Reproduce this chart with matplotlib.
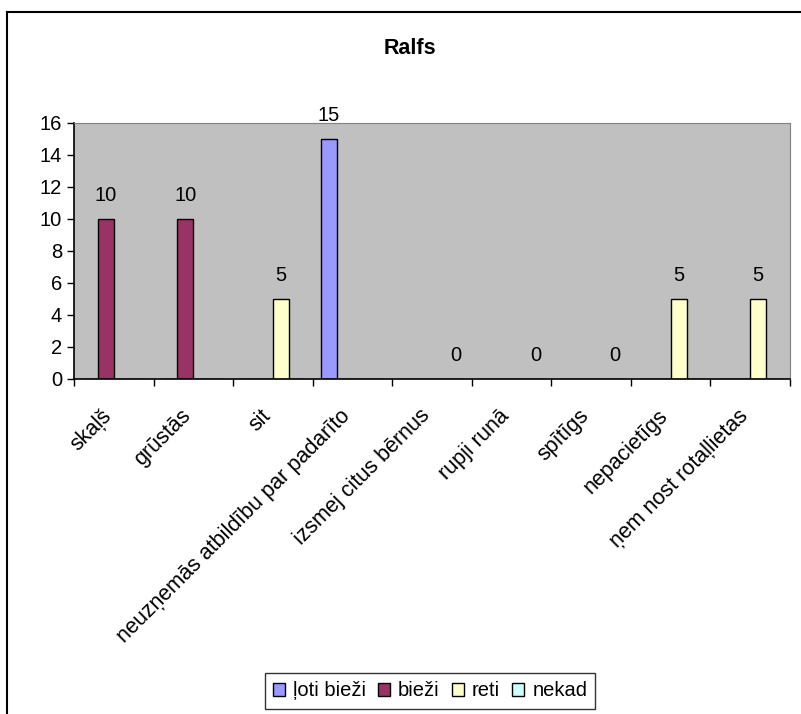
import numpy as np
import matplotlib.pyplot as plt
import matplotlib.transforms as mtransforms

# Data
categories = ['skaļš', 'grūstās', 'sit', 'neuzņemās atbildību par padarīto',
              'izsmej citus bērnus', 'rupji runā', 'spītīgs', 'nepacietīgs',
              'ņem nost rotaļlietas']
series_names = ['ļoti bieži', 'bieži', 'reti', 'nekad']
loti_biezi = [np.nan, np.nan, np.nan, 15, np.nan, np.nan, np.nan, np.nan, np.nan]
biezi = [10, 10, np.nan, np.nan, np.nan, np.nan, np.nan, np.nan, np.nan]
reti = [np.nan, np.nan, 5, np.nan, np.nan, np.nan, np.nan, 5, 5]
nekad = [np.nan, np.nan, np.nan, np.nan, 0, 0, 0, np.nan, np.nan]
colors = ['#9999FF', '#993366', '#FFFFCC', '#CCFFFF']

plt.rcParams['font.family'] = ['Liberation Sans', 'DejaVu Sans']
fs = 14.5

fig = plt.figure(figsize=(8.01, 7.14), dpi=100)
ax = fig.add_axes([74 / 801, 1 - 379 / 714, 716 / 801, 256 / 714])
ax.set_facecolor('#C0C0C0')

x = np.arange(len(categories))
w = 0.2
all_series = [loti_biezi, biezi, reti, nekad]
for i, (vals, name, c) in enumerate(zip(all_series, series_names, colors)):
    pos = x + (i - 1.5) * w
    v = np.array(vals, dtype=float)
    ax.bar(pos, np.nan_to_num(v), width=w, color=c, edgecolor='black',
           linewidth=1, label=name)
    for px, val in zip(pos, v):
        if not np.isnan(val):
            ax.annotate(f'{int(val)}', (px, val), xytext=(0, 17),
                        textcoords='offset points', ha='center', va='center',
                        fontsize=fs)

ax.set_xlim(-0.5, len(categories) - 0.5)
ax.set_ylim(0, 16)
ax.set_yticks(range(0, 17, 2))
ax.tick_params(axis='y', labelsize=fs, length=5, direction='out', width=1)

ax.set_xticks(x)
ax.set_xticklabels(categories, rotation=45, ha='right', va='top',
                   rotation_mode='anchor', fontsize=15.5)
ax.tick_params(axis='x', which='major', length=0, pad=19)
shift = mtransforms.ScaledTranslation(-13 / 100, 0, fig.dpi_scale_trans)
for lbl in ax.get_xticklabels():
    lbl.set_transform(lbl.get_transform() + shift)
ax.set_xticks(np.arange(-0.5, len(categories), 1), minor=True)
ax.tick_params(axis='x', which='minor', length=5, width=1)

for s in ['top', 'right']:
    ax.spines[s].set_color('#808080')
for s in ['left', 'bottom']:
    ax.spines[s].set_color('black')
    ax.spines[s].set_linewidth(1.2)

fig.text(410 / 801, 1 - 49 / 714, 'Ralfs', ha='center', va='center',
         fontsize=15.5, fontweight='bold')

# Chart area border
border = plt.Rectangle((7 / 801, -0.02), 1.0, 1 - 12 / 714 + 0.02,
                       transform=fig.transFigure, fill=False,
                       edgecolor='black', linewidth=1.5)
fig.patches.append(border)

leg = fig.legend(loc='center', bbox_to_anchor=(430 / 801, 1 - 691 / 714),
                 ncol=4, fontsize=fs, frameon=True, fancybox=False,
                 handlelength=0.6, handleheight=0.6, handletextpad=0.4,
                 columnspacing=0.6, borderpad=0.4, borderaxespad=0)
leg.get_frame().set_edgecolor('black')
leg.get_frame().set_linewidth(1)

fig.savefig('out.png', dpi=100)
